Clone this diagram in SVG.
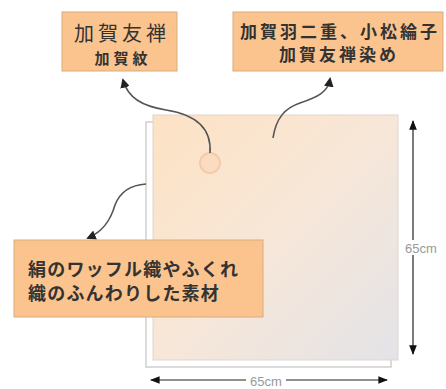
<svg xmlns="http://www.w3.org/2000/svg" width="446" height="389" viewBox="0 0 446 389">
<style>
.box{fill:#FBC48E;stroke:#D8AC80;stroke-width:1}
.t{font-family:"Noto Sans CJK JP","Noto Sans",sans-serif;fill:#333;text-anchor:middle}
.b{font-weight:bold}
.con{fill:none;stroke:#555;stroke-width:1.6}
.dim{fill:none;stroke:#222;stroke-width:1.2}
.lbl{font-family:"Liberation Sans",sans-serif;font-size:13px;fill:#999}
</style>
<defs>
<marker id="ah" viewBox="0 0 10 10" refX="8" refY="5" markerWidth="6" markerHeight="6" orient="auto-start-reverse" markerUnits="strokeWidth">
<path d="M0,0 L10,5 L0,10 z" fill="#222"/>
</marker>
<marker id="dh" viewBox="0 0 10 10" refX="9" refY="5" markerWidth="8" markerHeight="8" orient="auto-start-reverse" markerUnits="strokeWidth">
<path d="M0,1 L10,5 L0,9 z" fill="#111"/>
</marker>
<linearGradient id="cloth" x1="0" y1="0" x2="1" y2="1">
<stop offset="0" stop-color="#FDE2C4"/>
<stop offset="0.5" stop-color="#F7E7D8"/>
<stop offset="1" stop-color="#E3E3E8"/>
</linearGradient>
</defs>
<g id="cloth-sheet">
<rect x="146" y="122" width="245" height="245" fill="#fff" stroke="#cfcfcf" stroke-width="1.5"/>
<rect x="153" y="115" width="245" height="245" fill="url(#cloth)" stroke="#e0d6cc" stroke-width="1"/>
<circle cx="210" cy="163" r="10" fill="#FCDCC0" stroke="#F3CBAA" stroke-width="2"/>
</g>
<g id="connectors">
<path class="con" d="M210,153 C212,125 192,114 166,110 C142,106 128,98 123,80" marker-end="url(#ah)"/>
<path class="con" d="M273,138 C276,118 285,108 300,103 C318,97 328,92 330,79" marker-end="url(#ah)"/>
<path class="con" d="M146,184 C130,185 120,192 115,205 C110,222 102,232 88,238" marker-end="url(#ah)"/>
<path class="dim" d="M413,121 L413,354" marker-start="url(#dh)" marker-end="url(#dh)"/>
<path class="dim" d="M151,380 L387,380" marker-start="url(#dh)" marker-end="url(#dh)"/>
</g>
<g id="label-v">
<rect x="404" y="240" width="40" height="15" fill="#fff"/>
<text class="lbl" x="405" y="253">65cm</text>
</g>
<g id="label-h">
<rect x="246" y="373" width="40" height="15" fill="#fff"/>
<text class="lbl" x="266" y="386" text-anchor="middle">65cm</text>
</g>
<g id="box-kagayuzen">
<rect class="box" x="62" y="12" width="115" height="59"/>
<text class="t" x="122" y="41" font-size="20" letter-spacing="4">加賀友禅</text>
<text class="t b" x="123" y="64" font-size="15" letter-spacing="4">加賀紋</text>
</g>
<g id="box-habutae">
<rect class="box" x="233" y="12" width="210" height="59"/>
<text class="t b" x="340" y="38" font-size="17" letter-spacing="3">加賀羽二重、小松綸子</text>
<text class="t b" x="339" y="61" font-size="17" letter-spacing="3">加賀友禅染め</text>
</g>
<g id="box-waffle">
<rect class="box" x="14" y="240" width="249" height="77"/>
<text class="t b" x="28" y="276" font-size="18" letter-spacing="1.2" style="text-anchor:start">絹のワッフル織やふくれ</text>
<text class="t b" x="28" y="300" font-size="18" letter-spacing="1.2" style="text-anchor:start">織のふんわりした素材</text>
</g>
</svg>
